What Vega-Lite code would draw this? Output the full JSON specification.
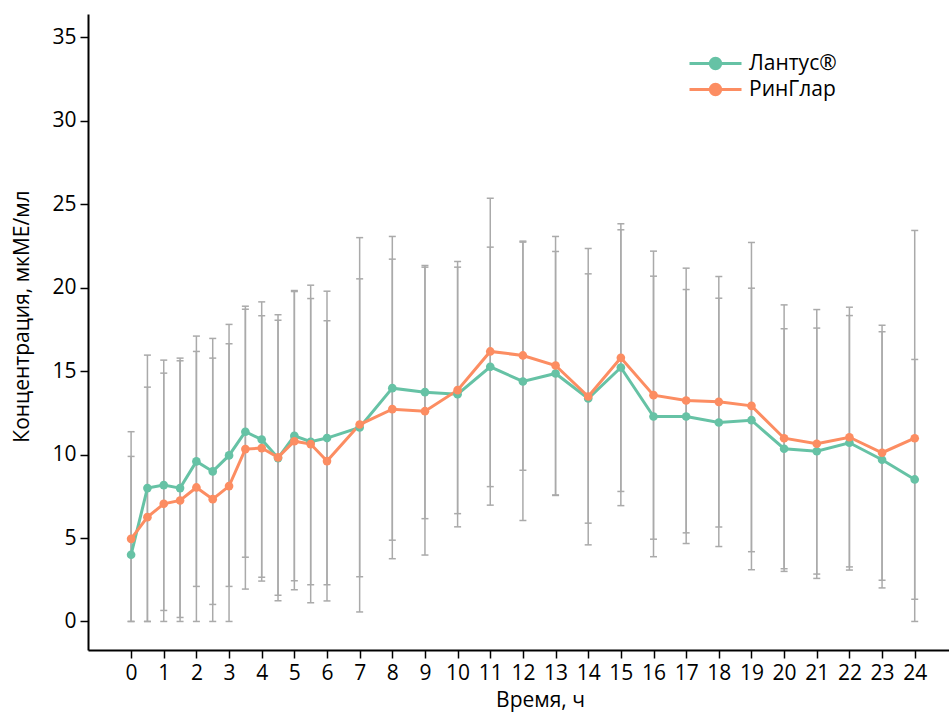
{
  "$schema": "https://vega.github.io/schema/vega-lite/v6.json",
  "width": 861,
  "height": 636,
  "autosize": {"type": "none"},
  "padding": {"left": 88, "top": 14, "right": 0, "bottom": 62},
  "background": "white",
  "config": {
    "view": {"stroke": null},
    "font": "Open Sans",
    "axis": {
      "grid": false,
      "domainColor": "black",
      "domainWidth": 2,
      "tickColor": "black",
      "tickWidth": 1.5,
      "tickSize": 8,
      "labelColor": "black",
      "labelFont": "Open Sans",
      "labelFontSize": 21,
      "titleFont": "Open Sans",
      "titleFontSize": 21,
      "titleFontWeight": "normal",
      "titleColor": "black"
    },
    "legend": {"labelFont": "Open Sans", "labelFontSize": 21, "labelColor": "black"}
  },
  "data": {
    "values": [
      {"t": 0, "series": "Лантус®", "mean": 4.0, "lo": 0, "hi": 9.89},
      {"t": 0.5, "series": "Лантус®", "mean": 7.99, "lo": 0, "hi": 15.96},
      {"t": 1, "series": "Лантус®", "mean": 8.17, "lo": 0.66, "hi": 15.66},
      {"t": 1.5, "series": "Лантус®", "mean": 7.99, "lo": 0.24, "hi": 15.78},
      {"t": 2, "series": "Лантус®", "mean": 9.59, "lo": 2.1, "hi": 17.1},
      {"t": 2.5, "series": "Лантус®", "mean": 8.99, "lo": 1.02, "hi": 16.96},
      {"t": 3, "series": "Лантус®", "mean": 9.95, "lo": 2.1, "hi": 17.8},
      {"t": 3.5, "series": "Лантус®", "mean": 11.37, "lo": 3.85, "hi": 18.89},
      {"t": 4, "series": "Лантус®", "mean": 10.9, "lo": 2.65, "hi": 19.15},
      {"t": 4.5, "series": "Лантус®", "mean": 9.79, "lo": 1.24, "hi": 18.38},
      {"t": 5, "series": "Лантус®", "mean": 11.12, "lo": 2.44, "hi": 19.83},
      {"t": 5.5, "series": "Лантус®", "mean": 10.77, "lo": 2.2, "hi": 19.35},
      {"t": 6, "series": "Лантус®", "mean": 10.99, "lo": 2.2, "hi": 19.79},
      {"t": 7, "series": "Лантус®", "mean": 11.62, "lo": 2.68, "hi": 20.53},
      {"t": 8, "series": "Лантус®", "mean": 13.98, "lo": 4.87, "hi": 23.07},
      {"t": 9, "series": "Лантус®", "mean": 13.74, "lo": 6.16, "hi": 21.33},
      {"t": 10, "series": "Лантус®", "mean": 13.62, "lo": 5.67, "hi": 21.57},
      {"t": 11, "series": "Лантус®", "mean": 15.26, "lo": 8.08, "hi": 22.43},
      {"t": 12, "series": "Лантус®", "mean": 14.38, "lo": 6.05, "hi": 22.73},
      {"t": 13, "series": "Лантус®", "mean": 14.86, "lo": 7.55, "hi": 22.17},
      {"t": 14, "series": "Лантус®", "mean": 13.36, "lo": 5.89, "hi": 20.83},
      {"t": 15, "series": "Лантус®", "mean": 15.22, "lo": 6.94, "hi": 23.47},
      {"t": 16, "series": "Лантус®", "mean": 12.28, "lo": 3.88, "hi": 20.69},
      {"t": 17, "series": "Лантус®", "mean": 12.28, "lo": 4.67, "hi": 19.89},
      {"t": 18, "series": "Лантус®", "mean": 11.92, "lo": 4.49, "hi": 19.37},
      {"t": 19, "series": "Лантус®", "mean": 12.06, "lo": 4.18, "hi": 19.97},
      {"t": 20, "series": "Лантус®", "mean": 10.35, "lo": 3.16, "hi": 17.54},
      {"t": 21, "series": "Лантус®", "mean": 10.2, "lo": 2.84, "hi": 17.58},
      {"t": 22, "series": "Лантус®", "mean": 10.71, "lo": 3.08, "hi": 18.33},
      {"t": 23, "series": "Лантус®", "mean": 9.69, "lo": 2.01, "hi": 17.36},
      {"t": 24, "series": "Лантус®", "mean": 8.51, "lo": 1.33, "hi": 15.7},
      {"t": 0, "series": "РинГлар", "mean": 4.95, "lo": 0, "hi": 11.37},
      {"t": 0.5, "series": "РинГлар", "mean": 6.25, "lo": 0, "hi": 14.04},
      {"t": 1, "series": "РинГлар", "mean": 7.05, "lo": 0, "hi": 14.88},
      {"t": 1.5, "series": "РинГлар", "mean": 7.25, "lo": 0, "hi": 15.62},
      {"t": 2, "series": "РинГлар", "mean": 8.03, "lo": 0, "hi": 16.18},
      {"t": 2.5, "series": "РинГлар", "mean": 7.33, "lo": 0, "hi": 15.78},
      {"t": 3, "series": "РинГлар", "mean": 8.11, "lo": 0, "hi": 16.64},
      {"t": 3.5, "series": "РинГлар", "mean": 10.33, "lo": 1.94, "hi": 18.71},
      {"t": 4, "series": "РинГлар", "mean": 10.39, "lo": 2.42, "hi": 18.32},
      {"t": 4.5, "series": "РинГлар", "mean": 9.83, "lo": 1.57, "hi": 18.05},
      {"t": 5, "series": "РинГлар", "mean": 10.8, "lo": 1.9, "hi": 19.77},
      {"t": 5.5, "series": "РинГлар", "mean": 10.63, "lo": 1.12, "hi": 20.15},
      {"t": 6, "series": "РинГлар", "mean": 9.61, "lo": 1.23, "hi": 18.02},
      {"t": 7, "series": "РинГлар", "mean": 11.8, "lo": 0.57, "hi": 23.0},
      {"t": 8, "series": "РинГлар", "mean": 12.72, "lo": 3.76, "hi": 21.71},
      {"t": 9, "series": "РинГлар", "mean": 12.6, "lo": 3.98, "hi": 21.23},
      {"t": 10, "series": "РинГлар", "mean": 13.86, "lo": 6.46, "hi": 21.23},
      {"t": 11, "series": "РинГлар", "mean": 16.18, "lo": 6.97, "hi": 25.36},
      {"t": 12, "series": "РинГлар", "mean": 15.94, "lo": 9.06, "hi": 22.79},
      {"t": 13, "series": "РинГлар", "mean": 15.34, "lo": 7.58, "hi": 23.07},
      {"t": 14, "series": "РинГлар", "mean": 13.48, "lo": 4.59, "hi": 22.35},
      {"t": 15, "series": "РинГлар", "mean": 15.8, "lo": 7.79, "hi": 23.83},
      {"t": 16, "series": "РинГлар", "mean": 13.56, "lo": 4.93, "hi": 22.19},
      {"t": 17, "series": "РинГлар", "mean": 13.24, "lo": 5.31, "hi": 21.17},
      {"t": 18, "series": "РинГлар", "mean": 13.16, "lo": 5.66, "hi": 20.67},
      {"t": 19, "series": "РинГлар", "mean": 12.92, "lo": 3.1, "hi": 22.71},
      {"t": 20, "series": "РинГлар", "mean": 10.98, "lo": 3.0, "hi": 18.97},
      {"t": 21, "series": "РинГлар", "mean": 10.65, "lo": 2.58, "hi": 18.69},
      {"t": 22, "series": "РинГлар", "mean": 11.04, "lo": 3.27, "hi": 18.83},
      {"t": 23, "series": "РинГлар", "mean": 10.11, "lo": 2.47, "hi": 17.75},
      {"t": 24, "series": "РинГлар", "mean": 10.98, "lo": 0, "hi": 23.43}
    ]
  },
  "encoding": {
    "x": {
      "field": "t",
      "type": "quantitative",
      "scale": {"domain": [-1.32, 25.05], "nice": false, "zero": false},
      "axis": {
        "title": "Время, ч",
        "values": [0,1,2,3,4,5,6,7,8,9,10,11,12,13,14,15,16,17,18,19,20,21,22,23,24],
        "labelPadding": 4,
        "titleX": 452,
        "titleY": 56,
        "titleBaseline": "alphabetic",
        "titleAnchor": null,
        "titleAlign": "center"
      }
    },
    "xOffset": {
      "field": "series",
      "type": "nominal",
      "scale": {"type": "point", "domain": ["Лантус®", "РинГлар"], "range": [-1.3, 1.3], "padding": 0}
    }
  },
  "layer": [
    {
      "mark": {"type": "rule", "color": "#aaaaaa", "strokeWidth": 1.5},
      "encoding": {
        "y": {
          "field": "lo",
          "type": "quantitative",
          "scale": {"domain": [-1.71, 36.4], "nice": false, "zero": false},
          "axis": {
            "title": "Концентрация, мкМЕ/мл",
            "values": [0, 5, 10, 15, 20, 25, 30, 35],
            "labelPadding": 4,
            "titleX": -66,
            "titleY": 302,
            "titleBaseline": "middle",
            "titleAngle": -90,
            "titleAlign": "center"
          }
        },
        "y2": {"field": "hi"}
      }
    },
    {
      "mark": {"type": "tick", "orient": "horizontal", "color": "#aaaaaa", "size": 7, "thickness": 1.5, "opacity": 1},
      "encoding": {"y": {"field": "lo", "type": "quantitative"}}
    },
    {
      "mark": {"type": "tick", "orient": "horizontal", "color": "#aaaaaa", "size": 7, "thickness": 1.5, "opacity": 1},
      "encoding": {"y": {"field": "hi", "type": "quantitative"}}
    },
    {
      "mark": {"type": "line", "strokeWidth": 3},
      "encoding": {
        "y": {"field": "mean", "type": "quantitative"},
        "color": {
          "field": "series",
          "type": "nominal",
          "scale": {"domain": ["Лантус®", "РинГлар"], "range": ["#66c2a5", "#fc8d62"]},
          "legend": {
            "title": null,
            "orient": "none",
            "legendX": 613,
            "legendY": 35,
            "symbolType": "M-2,0H2M0.4,0A0.4,0.4,0,1,1,-0.4,0A0.4,0.4,0,1,1,0.4,0Z",
            "symbolSize": 676,
            "symbolStrokeWidth": 3,
            "labelOffset": 19,
            "rowPadding": 0
          }
        }
      }
    },
    {
      "mark": {"type": "point", "filled": true, "size": 75, "opacity": 1},
      "encoding": {
        "y": {"field": "mean", "type": "quantitative"},
        "color": {"field": "series", "type": "nominal", "legend": null}
      }
    }
  ]
}
